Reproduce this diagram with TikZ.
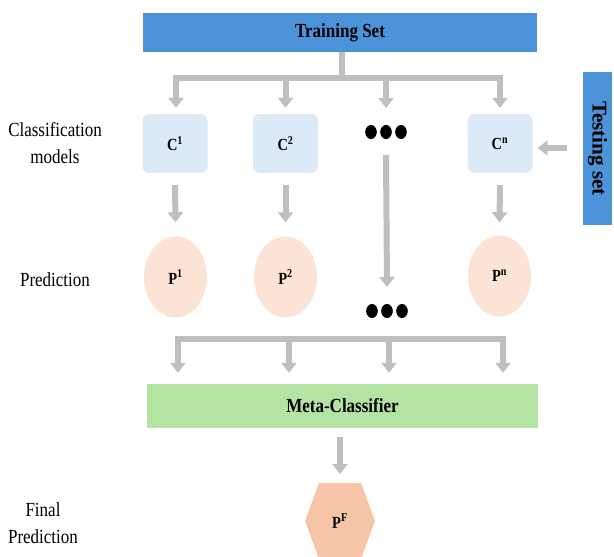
\documentclass[tikz,border=0pt]{standalone}
\usepackage{fontspec}
\setmainfont{Liberation Serif}[FakeStretch=0.85]
\newfontfamily\widerserif{Liberation Serif}
\usetikzlibrary{arrows.meta,shapes.geometric}
\definecolor{setblue}{HTML}{4C93DA}
\definecolor{modelfill}{HTML}{DCE9F6}
\definecolor{predfill}{HTML}{FBE3D5}
\definecolor{metagreen}{HTML}{B4E4A3}
\definecolor{finalfill}{HTML}{F6C5A8}
\definecolor{flowgray}{HTML}{BFBFBF}
\pgfdeclarelayer{background}
\pgfsetlayers{background,main}
\tikzset{
  setbox/.style={fill=setblue, inner sep=0pt, font=\fontsize{20}{24}\selectfont\bfseries},
  model/.style={fill=modelfill, rounded corners=7pt, minimum width=65pt, minimum height=59pt, inner sep=0pt, font=\fontsize{17}{20}\selectfont\bfseries},
  pred/.style={ellipse, fill=predfill, minimum width=63pt, minimum height=81pt, inner sep=0pt, font=\fontsize{17}{20}\selectfont\bfseries},
  metabox/.style={fill=metagreen, minimum width=391pt, minimum height=44pt, inner sep=0pt, font=\fontsize{20}{24}\selectfont\bfseries},
  finalnode/.style={inner sep=0pt, font=\fontsize{17}{20}\selectfont\bfseries},
  sidelabel/.style={align=center, font=\fontsize{20}{27}\selectfont},
  bar/.style={draw=flowgray, line width=6pt},
  flow/.style={draw=flowgray, line width=6pt, -{Triangle[width=15pt,length=10pt]}},
  dotrow/.style={minimum width=45pt, minimum height=14pt, inner sep=0pt},
}
\newcommand{\ellipsisdots}[1]{%
  \foreach \dx in {-15,0,15} \fill[black] ([xshift=\dx pt]#1) ellipse [x radius=5.8pt, y radius=7pt];}
\begin{document}
\begin{tikzpicture}[x=1pt, y=-1pt]
\useasboundingbox (0,0) rectangle (614,557);

% input sets
\node[setbox, minimum width=394pt, minimum height=39pt] (train) at (340,32.5) {Training Set};
\node[setbox, minimum width=153pt, minimum height=29pt, rotate=-90,
      font=\widerserif\fontsize{21}{24}\selectfont\bfseries] (test) at (597.5,148.5) {Testing set};

% classification models
\node[model] (c1) at (175,143.5) {C\textsuperscript{1}};
\node[model] (c2) at (285.5,143.5) {C\textsuperscript{2}};
\node[dotrow] (dotsA) at (386,132) {};
\node[model] (cn) at (500,143.5) {C\textsuperscript{n}};

% predictions
\node[pred] (p1) at (175.5,277) {P\textsuperscript{1}};
\node[pred] (p2) at (285.5,277) {P\textsuperscript{2}};
\node[dotrow] (dotsB) at (387,311) {};
\node[pred] (pn) at (499.5,276) {P\textsuperscript{n}};

% combiner and final output
\node[metabox] (meta) at (342.5,406) {Meta-Classifier};
\node[finalnode] (pf) at (340,521) {P\textsuperscript{F}};
\begin{pgfonlayer}{background}
\fill[finalfill] ([xshift=-35pt]pf.center) -- ([xshift=-21pt,yshift=38pt]pf.center)
  -- ([xshift=21pt,yshift=38pt]pf.center) -- ([xshift=35pt]pf.center)
  -- ([xshift=21pt,yshift=-38pt]pf.center) -- ([xshift=-21pt,yshift=-38pt]pf.center) -- cycle;
\end{pgfonlayer}

% row labels
\node[sidelabel] (lblc) at (55,143) {Classification\\models};
\node[sidelabel] (lblp) at (55,280) {Prediction};
\node[sidelabel] (lblf) at (43,523) {Final\\Prediction};

% ellipsis marks
\ellipsisdots{dotsA.center}
\ellipsisdots{dotsB.center}

% fan-out from the training set
\coordinate (jt) at (train.south -| 342,0);
\coordinate (jm) at (342,78);
\coordinate (jl) at (176,78);
\coordinate (jr) at (500,78);
\draw[bar] (jt) -- (jm);
\draw[bar, line cap=butt] ([xshift=-3pt]jl) -- ([xshift=3pt]jr);
\draw[flow] (jl) -- ([yshift=6pt]c1.north -| jl);
\draw[flow] (jm -| c2) -- ([yshift=6pt]c2.north);
\draw[flow] (jm -| dotsA) -- ([yshift=24pt]dotsA.center);
\draw[flow] (jr) -- ([yshift=6pt]cn.north -| jr);

% testing set into the last model
\coordinate (ts) at (567,148);
\draw[flow] (ts) -- ([xshift=5pt]ts -| cn.east);

% models to predictions
\draw[flow] ([yshift=-12pt]c1.south) -- ([yshift=14pt]p1.north);
\draw[flow] ([yshift=-12pt]c2.south) -- ([yshift=14pt]p2.north);
\draw[flow] ([yshift=-23pt]dotsA.center) -- ([yshift=24pt]dotsB.center);
\draw[flow] ([yshift=-12pt]cn.south) -- ([yshift=13pt]pn.north);

% fan-in to the meta-classifier
\coordinate (kl) at (178,339);
\coordinate (kr) at (503,339);
\draw[bar, line cap=butt] ([xshift=-3pt]kl) -- ([xshift=3pt]kr);
\draw[flow] (kl) -- ([yshift=11pt]meta.north -| kl);
\draw[flow] (289,339) -- ([yshift=11pt]meta.north -| 289,0);
\draw[flow] (389,339) -- ([yshift=11pt]meta.north -| 389,0);
\draw[flow] (kr) -- ([yshift=11pt]meta.north -| kr);

% meta-classifier to final prediction
\draw[flow] ([yshift=-9pt]meta.south -| pf) -- ([yshift=47pt]pf.center);
\end{tikzpicture}
\end{document}
